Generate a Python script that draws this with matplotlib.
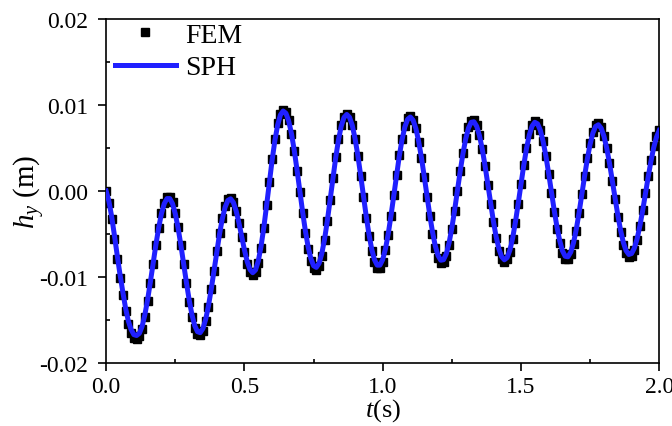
import numpy as np
import matplotlib
matplotlib.use("Agg")
import matplotlib.pyplot as plt
from matplotlib.ticker import MultipleLocator, FormatStrFormatter

# time axis, 0.01 s steps
t = np.round(np.arange(201) * 0.01, 2)

# SPH displacement h_y (m)
sph = [
    0.00000, -0.00120, -0.00300, -0.00520, -0.00750, -0.00970, -0.01170, -0.01360, -0.01510, -0.01610,
    -0.01670, -0.01680, -0.01655, -0.01573, -0.01438, -0.01261, -0.01054, -0.00835, -0.00621, -0.00424,
    -0.00262, -0.00147, -0.00088, -0.00088, -0.00148, -0.00265, -0.00429, -0.00626, -0.00843, -0.01061,
    -0.01264, -0.01436, -0.01563, -0.01635, -0.01647, -0.01598, -0.01490, -0.01334, -0.01140, -0.00925,
    -0.00705, -0.00499, -0.00322, -0.00189, -0.00110, -0.00091, -0.00133, -0.00231, -0.00369, -0.00528,
    -0.00686, -0.00821, -0.00913, -0.00950, -0.00919, -0.00815, -0.00645, -0.00425, -0.00170, 0.00096,
    0.00356, 0.00585, 0.00766, 0.00884, 0.00930, 0.00904, 0.00815, 0.00668, 0.00475, 0.00249,
    0.00007, -0.00234, -0.00456, -0.00644, -0.00785, -0.00869, -0.00888, -0.00840, -0.00725, -0.00555,
    -0.00341, -0.00099, 0.00149, 0.00386, 0.00593, 0.00754, 0.00855, 0.00890, 0.00857, 0.00762,
    0.00610, 0.00415, 0.00189, -0.00050, -0.00285, -0.00497, -0.00673, -0.00797, -0.00862, -0.00862,
    -0.00797, -0.00673, -0.00498, -0.00286, -0.00053, 0.00184, 0.00407, 0.00598, 0.00744, 0.00833,
    0.00860, 0.00822, 0.00726, 0.00578, 0.00389, 0.00173, -0.00055, -0.00276, -0.00475, -0.00637,
    -0.00750, -0.00805, -0.00799, -0.00730, -0.00604, -0.00431, -0.00224, 0.00000, 0.00224, 0.00431,
    0.00604, 0.00730, 0.00799, 0.00805, 0.00752, 0.00643, 0.00487, 0.00295, 0.00082, -0.00138,
    -0.00346, -0.00529, -0.00671, -0.00764, -0.00800, -0.00774, -0.00687, -0.00546, -0.00360, -0.00146,
    0.00079, 0.00298, 0.00494, 0.00650, 0.00754, 0.00799, 0.00781, 0.00706, 0.00578, 0.00408,
    0.00207, -0.00007, -0.00220, -0.00415, -0.00577, -0.00695, -0.00759, -0.00765, -0.00711, -0.00602,
    -0.00446, -0.00255, -0.00043, 0.00172, 0.00372, 0.00544, 0.00674, 0.00751, 0.00770, 0.00730,
    0.00638, 0.00499, 0.00326, 0.00128, -0.00077, -0.00276, -0.00453, -0.00596, -0.00693, -0.00738,
    -0.00727, -0.00664, -0.00556, -0.00406, -0.00229, -0.00034, 0.00162, 0.00346, 0.00504, 0.00626,
    0.00704,
]

# FEM reference points (m), same sampling
fem = [
    0.00000, -0.00140, -0.00330, -0.00560, -0.00790, -0.01010, -0.01210, -0.01400, -0.01550, -0.01650,
    -0.01705, -0.01720, -0.01690, -0.01600, -0.01460, -0.01280, -0.01070, -0.00845, -0.00625, -0.00425,
    -0.00260, -0.00140, -0.00075, -0.00070, -0.00130, -0.00250, -0.00420, -0.00625, -0.00850, -0.01075,
    -0.01285, -0.01460, -0.01590, -0.01665, -0.01680, -0.01625, -0.01510, -0.01345, -0.01145, -0.00925,
    -0.00700, -0.00490, -0.00310, -0.00175, -0.00095, -0.00080, -0.00125, -0.00230, -0.00375, -0.00540,
    -0.00705, -0.00845, -0.00940, -0.00975, -0.00945, -0.00835, -0.00660, -0.00430, -0.00165, 0.00110,
    0.00375, 0.00605, 0.00785, 0.00900, 0.00945, 0.00915, 0.00820, 0.00665, 0.00465, 0.00230,
    -0.00015, -0.00260, -0.00485, -0.00675, -0.00815, -0.00900, -0.00920, -0.00870, -0.00750, -0.00570,
    -0.00350, -0.00100, 0.00155, 0.00395, 0.00605, 0.00765, 0.00865, 0.00900, 0.00865, 0.00765,
    0.00605, 0.00405, 0.00175, -0.00070, -0.00310, -0.00525, -0.00700, -0.00825, -0.00890, -0.00890,
    -0.00820, -0.00690, -0.00510, -0.00290, -0.00050, 0.00190, 0.00415, 0.00610, 0.00755, 0.00845,
    0.00870, 0.00830, 0.00730, 0.00575, 0.00380, 0.00160, -0.00070, -0.00295, -0.00500, -0.00665,
    -0.00780, -0.00835, -0.00830, -0.00755, -0.00625, -0.00445, -0.00230, 0.00000, 0.00230, 0.00440,
    0.00615, 0.00745, 0.00815, 0.00820, 0.00765, 0.00650, 0.00490, 0.00290, 0.00070, -0.00155,
    -0.00365, -0.00550, -0.00695, -0.00790, -0.00825, -0.00795, -0.00705, -0.00560, -0.00370, -0.00150,
    0.00080, 0.00305, 0.00505, 0.00665, 0.00770, 0.00815, 0.00795, 0.00715, 0.00580, 0.00405,
    0.00195, -0.00025, -0.00240, -0.00440, -0.00605, -0.00725, -0.00790, -0.00795, -0.00735, -0.00620,
    -0.00460, -0.00260, -0.00040, 0.00180, 0.00385, 0.00560, 0.00690, 0.00765, 0.00785, 0.00740,
    0.00645, 0.00500, 0.00320, 0.00115, -0.00095, -0.00300, -0.00480, -0.00625, -0.00725, -0.00770,
    -0.00755, -0.00685, -0.00570, -0.00410, -0.00225, -0.00025, 0.00175, 0.00360, 0.00520, 0.00640,
    0.00715,
]

plt.rcParams['font.family'] = ['Liberation Serif', 'DejaVu Serif']
plt.rcParams['mathtext.fontset'] = 'custom'
plt.rcParams['mathtext.rm'] = 'Liberation Serif'
plt.rcParams['mathtext.it'] = 'Liberation Serif:italic'
plt.rcParams['axes.unicode_minus'] = False

fig = plt.figure(figsize=(6.72, 4.27), dpi=100)
ax = fig.add_axes([0.158, 0.1475, 0.823, 0.8057])

ax.plot(t, fem, 's', color='black', markersize=6, label='FEM', zorder=2)
ax.plot(t, sph, '-', color='#2020ff', linewidth=3.6, label='SPH', zorder=3)

ax.set_xlim(0, 2.0)
ax.set_ylim(-0.02, 0.02)
ax.xaxis.set_major_locator(MultipleLocator(0.5))
ax.xaxis.set_minor_locator(MultipleLocator(0.25))
ax.yaxis.set_major_locator(MultipleLocator(0.01))
ax.yaxis.set_minor_locator(MultipleLocator(0.005))
ax.xaxis.set_major_formatter(FormatStrFormatter('%.1f'))
ax.yaxis.set_major_formatter(FormatStrFormatter('%.2f'))

ax.tick_params(which='major', direction='out', length=6, width=1.2, labelsize=17, pad=3)
ax.tick_params(axis='y', which='major', pad=7)
ax.tick_params(which='minor', direction='in', length=3, width=1.2)
for s in ax.spines.values():
    s.set_linewidth(1.2)

ax.set_xlabel(r'$t$(s)', fontsize=19, labelpad=0)
ax.set_ylabel(r'$h_y$ (m)', fontsize=21, labelpad=-6)

ax.legend(loc='upper left', frameon=False, fontsize=20, handlelength=2.2,
          borderaxespad=0.1, labelspacing=0.25, handletextpad=0.35,
          bbox_to_anchor=(-0.01, 1.03))

fig.savefig('out.png', dpi=100)
